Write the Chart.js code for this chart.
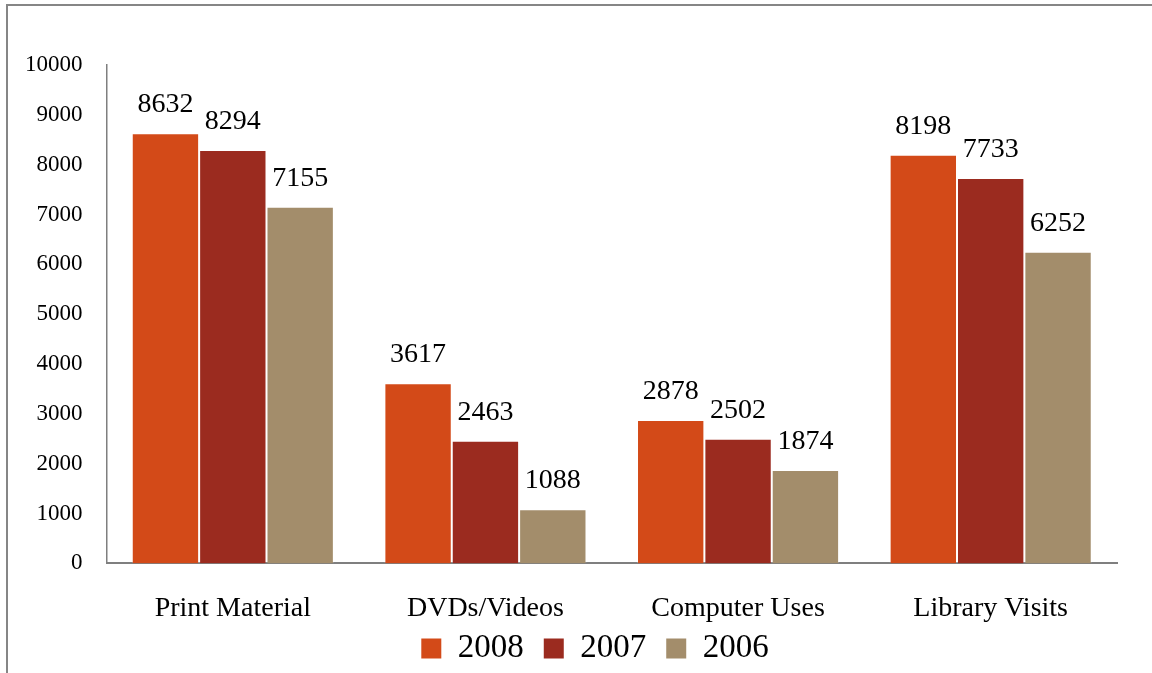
<!DOCTYPE html>
<html>
<head>
<meta charset="utf-8">
<script src="https://cdn.jsdelivr.net/npm/chart.js@4/dist/chart.umd.min.js"></script>
<style>
  html, body { margin: 0; padding: 0; background: #fff; overflow: hidden; }
  #wrap { position: absolute; left: 0; top: 0; width: 1152px; height: 673px; }
  #frame { position: absolute; left: 6px; top: 4px; width: 1300px; height: 800px; border: 2px solid #868686; box-sizing: border-box; }
  canvas { position: absolute; left: 0; top: 0; }
</style>
</head>
<body>
<div id="wrap">
  <div id="frame"></div>
  <canvas id="c" width="1152" height="673"></canvas>
</div>
<script>
const categories = ["Print Material", "DVDs/Videos", "Computer Uses", "Library Visits"];
const seriesNames = ["2008", "2007", "2006"];
const values2008 = [8632, 3617, 2878, 8198];
const values2007 = [8294, 2463, 2502, 7733];
const values2006 = [7155, 1088, 1874, 6252];
const yTicks = [0, 1000, 2000, 3000, 4000, 5000, 6000, 7000, 8000, 9000, 10000];
const colors = ["#D34A18", "#9B2B1F", "#A38D6B"];

const FONT = "'Liberation Serif', 'DejaVu Serif', serif";

const valueLabels = {
  id: 'valueLabels',
  afterDatasetsDraw(chart) {
    const ctx = chart.ctx;
    ctx.save();
    ctx.font = "28px " + FONT;
    ctx.fillStyle = "#000";
    ctx.textAlign = "center";
    ctx.textBaseline = "alphabetic";
    chart.data.datasets.forEach((ds, i) => {
      const meta = chart.getDatasetMeta(i);
      meta.data.forEach((bar, j) => {
        ctx.fillText(String(ds.data[j]), bar.x, bar.y - 21);
      });
    });
    ctx.restore();
  }
};

const legendShift = {
  id: 'legendShift',
  afterLayout(chart) {
    const lg = chart.legend;
    if (lg) {
      lg.left += 44; lg.right += 44;
      lg.top -= 25; lg.bottom -= 25;
    }
  }
};

new Chart(document.getElementById('c'), {
  type: 'bar',
  data: {
    labels: categories,
    datasets: [
      { label: seriesNames[0], data: values2008, backgroundColor: colors[0], borderColor: "rgba(255,255,255,0.2)", borderWidth: 1 },
      { label: seriesNames[1], data: values2007, backgroundColor: colors[1], borderColor: "rgba(255,255,255,0.2)", borderWidth: 1 },
      { label: seriesNames[2], data: values2006, backgroundColor: colors[2], borderColor: "rgba(255,255,255,0.2)", borderWidth: 1 }
    ]
  },
  options: {
    responsive: false,
    devicePixelRatio: 1,
    animation: false,
    layout: { padding: { top: 65, left: 1, right: 35, bottom: -27 } },
    datasets: { bar: { categoryPercentage: 0.8, barPercentage: 1.0 } },
    scales: {
      x: {
        grid: { display: false, drawTicks: false },
        border: { display: true, color: "#7f7f7f", width: 2 },
        ticks: { color: "#000", font: { family: FONT, size: 28 }, padding: 28, maxRotation: 0 }
      },
      y: {
        min: 0, max: 10000,
        afterBuildTicks(axis) { axis.ticks = yTicks.map(v => ({ value: v })); },
        grid: { display: false, drawTicks: false },
        border: { display: true, color: "#7f7f7f", width: 1.5 },
        ticks: { color: "#000", font: { family: FONT, size: 23 }, padding: 24, callback: v => String(v) }
      }
    },
    plugins: {
      legend: {
        position: 'bottom',
        labels: {
          color: "#000", font: { family: FONT, size: 33 }, boxWidth: 20, boxHeight: 20, padding: 4,
          generateLabels(chart) {
            const items = Chart.defaults.plugins.legend.labels.generateLabels(chart);
            items.forEach(it => { it.text = it.text + "\u2009\u2009\u200A"; it.lineWidth = 0; });
            return items;
          }
        }
      },
      tooltip: { enabled: false }
    }
  },
  plugins: [valueLabels, legendShift]
});
</script>
</body>
</html>
